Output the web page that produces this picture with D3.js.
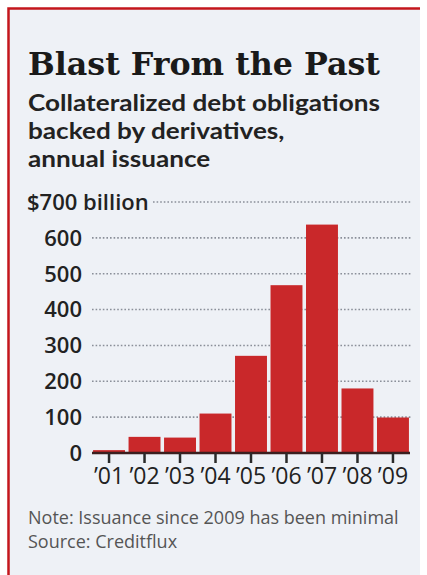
<!DOCTYPE html>
<html>
<head>
<meta charset="utf-8">
<script src="https://cdn.jsdelivr.net/npm/d3@7"></script>
<style>
  html, body { margin: 0; padding: 0; background: #fff; }
  svg { display: block; }
</style>
</head>
<body>
<div id="chart"></div>
<script>
// annual CDO issuance backed by derivatives, $ billion
var years = ["\u201901", "\u201902", "\u201903", "\u201904", "\u201905", "\u201906", "\u201907", "\u201908", "\u201909"];
var issuance = [8, 45, 43, 110, 271, 468, 637, 180, 99];
var yTicks = [0, 100, 200, 300, 400, 500, 600, 700];

var W = 427, H = 575;
var svg = d3.select('#chart').append('svg')
    .attr('width', W)
    .attr('height', H);

// panel + red frame (left and top only)
svg.append('rect')
    .attr('x', 8).attr('y', 8)
    .attr('width', 412).attr('height', H - 8)
    .attr('fill', '#eef1f6');
svg.append('path')
    .attr('d', 'M8.5,' + H + 'V8.5H420')
    .attr('fill', 'none')
    .attr('stroke', '#c4161c')
    .attr('stroke-width', 2.5);

svg.append('text')
    .attr('x', 28).attr('y', 75)
    .attr('textLength', 352)
    .attr('lengthAdjust', 'spacingAndGlyphs')
    .style('font-family', '"DejaVu Serif", serif')
    .style('font-weight', 'bold')
    .style('font-size', '31px')
    .attr('fill', '#1a1a1a')
    .text('Blast From the Past');

var sub = ['Collateralized debt obligations', 'backed by derivatives,', 'annual issuance'];
var subG = svg.append('g');
var subText = subG.selectAll('text.sub')
    .data(sub)
    .enter()
    .append('text')
        .attr('class', 'sub')
        .attr('x', 0)
        .attr('y', function (d, i) { return 111.5 + i * 28; })
        .style('font-family', 'Lato, sans-serif')
        .style('font-weight', 700)
        .style('font-size', '23px')
        .attr('fill', '#222')
        .text(function (d) { return d; });
// widen the lines a bit so the first one spans ~352px like the original
var sx = 352 / subText.node().getComputedTextLength();
subG.attr('transform', 'translate(28,0) scale(' + sx + ',1)');

var x = d3.scaleBand()
    .domain(years)
    .range([92, 410])
    .paddingInner(0.1)
    .paddingOuter(0.03);

var y = d3.scaleLinear()
    .domain([0, 700])
    .range([453, 202]);

// dotted gridlines
svg.selectAll('line.grid')
    .data(yTicks.filter(function (d) { return d > 0; }))
    .enter()
    .append('line')
        .attr('class', 'grid')
        .attr('x1', function (d) { return d === 700 ? 153 : 92; })
        .attr('x2', 412)
        .attr('y1', function (d) { return y(d); })
        .attr('y2', function (d) { return y(d); })
        .attr('stroke', '#8a8f99')
        .attr('stroke-width', 1.6)
        .attr('stroke-dasharray', '1.6,2');

// y labels
svg.selectAll('text.ylab')
    .data(yTicks)
    .enter()
    .append('text')
        .attr('class', 'ylab')
        .attr('x', function (d) { return d === 700 ? 27 : 82; })
        .attr('y', function (d) { return y(d); })
        .attr('dy', '0.36em')
        .attr('text-anchor', function (d) { return d === 700 ? 'start' : 'end'; })
        .style('font-family', '"Open Sans", sans-serif')
        .style('font-weight', 600)
        .style('font-size', '22px')
        .attr('fill', '#222')
        .text(function (d) { return d === 700 ? '$700 billion' : d; });

svg.selectAll('rect.bar')
    .data(issuance)
    .enter()
    .append('rect')
        .attr('class', 'bar')
        .attr('x', function (d, i) { return x(years[i]); })
        .attr('y', function (d) { return y(d); })
        .attr('width', x.bandwidth())
        .attr('height', function (d) { return y(0) - y(d); })
        .attr('fill', '#c9282a');

// x axis
var xAxis = d3.axisBottom(x).tickSize(10).tickPadding(5);
var gx = svg.append('g')
    .attr('transform', 'translate(0,' + y(0) + ')')
    .call(xAxis);
gx.select('.domain')
    .attr('d', 'M92,0H410')
    .attr('stroke', '#3b1f1f')
    .attr('stroke-width', 2.5);
gx.selectAll('.tick line')
    .attr('stroke', '#2a2a2a')
    .attr('stroke-width', 2.5);
gx.selectAll('.tick text')
    .style('font-family', '"Open Sans", sans-serif')
    .style('font-size', '23px')
    .attr('fill', '#222');

var notes = ['Note: Issuance since 2009 has been minimal', 'Source: Creditflux'];
svg.selectAll('text.note')
    .data(notes)
    .enter()
    .append('text')
        .attr('class', 'note')
        .attr('x', 28)
        .attr('y', function (d, i) { return 524 + i * 24; })
        .style('font-family', '"Open Sans", sans-serif')
        .style('font-size', '18px')
        .attr('fill', '#555')
        .text(function (d) { return d; });
</script>
</body>
</html>
